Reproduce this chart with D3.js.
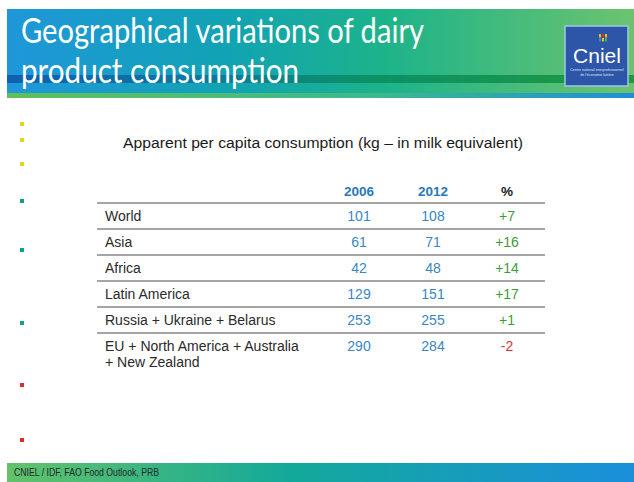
<!DOCTYPE html>
<html>
<head>
<meta charset="utf-8">
<script src="https://cdn.jsdelivr.net/npm/d3@7"></script>
<style>
  body { margin: 0; background: #fff; }
  svg { display: block; }
</style>
</head>
<body>
<div id="chart"></div>
<script>
// table data
var regions = ["World", "Asia", "Africa", "Latin America", "Russia + Ukraine + Belarus",
               "EU + North America + Australia|+ New Zealand"];
var v2006 = [101, 61, 42, 129, 253, 290];
var v2012 = [108, 71, 48, 151, 255, 284];
var pct = [7, 16, 14, 17, 1, -2];
var columns = ["2006", "2012", "%"];
var bulletColors = ["#e9d21e", "#e9d21e", "#e9d21e", "#149e8c", "#149e8c", "#149e8c", "#d9302e", "#d9302e"];

var width = 634, height = 482;

var svg = d3.select("#chart")
    .append("svg")
    .attr("width", width)
    .attr("height", height);

var defs = svg.append("defs");
function grad(id, stops) {
  var g = defs.append("linearGradient").attr("id", id)
      .attr("x1", "0%").attr("x2", "100%").attr("y1", "0%").attr("y2", "0%");
  stops.forEach(function(s) {
    g.append("stop").attr("offset", s[0]).attr("stop-color", s[1]);
  });
}
grad("hdr", [["0%", "#1f97da"], ["35%", "#11a3b4"], ["60%", "#1cb38a"], ["100%", "#6cc36e"]]);
grad("hdrDark", [["0%", "#0d56a8"], ["30%", "#0b6f9a"], ["55%", "#0a8a62"], ["100%", "#109238"]]);
grad("hdrLine", [["0%", "#5fc05a"], ["60%", "#3cb890"], ["100%", "#1d8fd6"]]);
grad("ftr", [["0%", "#63c26a"], ["45%", "#13a99a"], ["100%", "#1b8fdc"]]);

// header band
svg.append("rect").attr("x", 7).attr("y", 9).attr("width", width - 7).attr("height", 86)
    .attr("fill", "url(#hdr)");
svg.append("rect").attr("x", 7).attr("y", 75).attr("width", width - 7).attr("height", 8)
    .attr("fill", "url(#hdrDark)").attr("opacity", 0.85);
svg.append("rect").attr("x", 7).attr("y", 93).attr("width", width - 7).attr("height", 5)
    .attr("fill", "url(#hdrLine)");

svg.append("text").attr("x", 21).attr("y", 43)
    .attr("textLength", 403).attr("lengthAdjust", "spacingAndGlyphs")
    .style("font-family", "Lato, 'Open Sans', sans-serif").style("font-size", "34px")
    .attr("fill", "#fff").text("Geographical variations of dairy");
svg.append("text").attr("x", 21).attr("y", 83)
    .attr("textLength", 278).attr("lengthAdjust", "spacingAndGlyphs")
    .style("font-family", "Lato, 'Open Sans', sans-serif").style("font-size", "34px")
    .attr("fill", "#fff").text("product consumption");

// logo
var logo = svg.append("g").attr("transform", "translate(565,26)");
logo.append("rect").attr("width", 63).attr("height", 60)
    .attr("fill", "#2d55a8").attr("stroke", "#9fc9e8").attr("stroke-width", 1.5);
["#e8c21e", "#d9302e", "#e8c21e", "#3f7fd0", "#e8c21e", "#4caf50"].forEach(function(c, i) {
  logo.append("rect").attr("x", 34 + (i % 3) * 3).attr("y", 8 + Math.floor(i / 3) * 4)
      .attr("width", 2).attr("height", 3.5).attr("fill", c);
});
logo.append("text").attr("x", 32).attr("y", 37).attr("text-anchor", "middle")
    .style("font-family", "'Liberation Sans', Arial, sans-serif").style("font-size", "21px")
    .attr("fill", "#fff").text("Cniel");
logo.append("text").attr("x", 32).attr("y", 45).attr("text-anchor", "middle")
    .style("font-family", "'Liberation Sans', Arial, sans-serif").style("font-size", "3.6px")
    .attr("fill", "#dfe8f5").text("Centre national interprofessionnel");
logo.append("text").attr("x", 32).attr("y", 49.5).attr("text-anchor", "middle")
    .style("font-family", "'Liberation Sans', Arial, sans-serif").style("font-size", "3.6px")
    .attr("fill", "#dfe8f5").text("de l'économie laitière");

// bullets
var bulletY = [124, 140, 164, 201, 250, 323, 385, 440];
svg.append("g").selectAll("rect").data(bulletColors).enter().append("rect")
    .attr("x", 20).attr("y", function(d, i) { return bulletY[i] - 2; })
    .attr("width", 4).attr("height", 4).attr("fill", function(d) { return d; });

// subtitle
svg.append("text").attr("x", 123).attr("y", 148)
    .attr("textLength", 400).attr("lengthAdjust", "spacingAndGlyphs")
    .style("font-family", "'Liberation Sans', Arial, sans-serif").style("font-size", "15.5px")
    .attr("fill", "#1a1a1a").text("Apparent per capita consumption (kg \u2013 in milk equivalent)");

// table
var x = d3.scalePoint().domain(columns).range([359, 507]);
var y = d3.scaleBand().domain(d3.range(regions.length)).range([203, 203 + 6 * 26]);
var font = "'Liberation Sans', Arial, sans-serif";

var table = svg.append("g");
table.selectAll(".colhead").data(columns).enter().append("text")
    .attr("class", "colhead")
    .attr("x", function(d) { return x(d); }).attr("y", 196)
    .attr("text-anchor", "middle")
    .style("font-family", font).style("font-size", "13.5px").style("font-weight", "bold")
    .attr("fill", function(d) { return d === "%" ? "#222" : "#2a78b8"; })
    .text(function(d) { return d; });

table.selectAll(".rule").data(d3.range(regions.length)).enter().append("line")
    .attr("class", "rule")
    .attr("x1", 97).attr("x2", 545)
    .attr("y1", function(d) { return y(d); }).attr("y2", function(d) { return y(d); })
    .attr("stroke", "#a5a5a5").attr("stroke-width", 2);

var rows = table.selectAll(".row").data(regions).enter().append("g")
    .attr("class", "row")
    .attr("transform", function(d, i) { return "translate(0," + (y(i) + 18) + ")"; });

rows.append("text").attr("x", 105)
    .style("font-family", font).style("font-size", "14px").attr("fill", "#2a2a2a")
    .each(function(d) {
      var parts = d.split("|");
      var t = d3.select(this);
      parts.forEach(function(p, k) {
        t.append("tspan").attr("x", 105).attr("dy", k === 0 ? 0 : 16).text(p);
      });
    });

rows.append("text").attr("x", x("2006")).attr("text-anchor", "middle")
    .style("font-family", font).style("font-size", "14px").attr("fill", "#3a86c2")
    .text(function(d, i) { return v2006[i]; });
rows.append("text").attr("x", x("2012")).attr("text-anchor", "middle")
    .style("font-family", font).style("font-size", "14px").attr("fill", "#3a86c2")
    .text(function(d, i) { return v2012[i]; });
rows.append("text").attr("x", x("%")).attr("text-anchor", "middle")
    .style("font-family", font).style("font-size", "14px")
    .attr("fill", function(d, i) { return pct[i] < 0 ? "#d8353a" : "#3f9a3c"; })
    .text(function(d, i) { return (pct[i] > 0 ? "+" : "") + pct[i]; });

// footer
svg.append("rect").attr("x", 7).attr("y", 463).attr("width", width - 7).attr("height", 19)
    .attr("fill", "url(#ftr)");
svg.append("text").attr("x", 14).attr("y", 476)
    .attr("textLength", 145).attr("lengthAdjust", "spacingAndGlyphs")
    .style("font-family", "'Liberation Sans', Arial, sans-serif")
    .style("font-size", "11px").attr("fill", "#1c2a2a")
    .text("CNIEL / IDF, FAO Food Outlook, PRB");
</script>
</body>
</html>
